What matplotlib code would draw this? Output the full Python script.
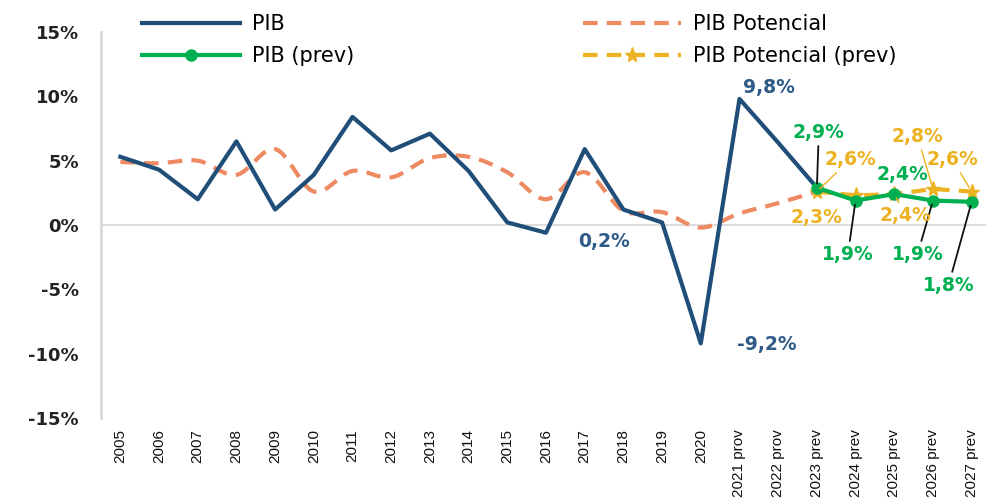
"""
PIB vs PIB Potencial, historico e previsoes
"""

import matplotlib
matplotlib.use('Agg')

import numpy as np
import matplotlib.pyplot as plt
from matplotlib.path import Path
from matplotlib.patches import PathPatch
from matplotlib.lines import Line2D

# ---- data ----
categories = ['2005', '2006', '2007', '2008', '2009', '2010', '2011', '2012',
              '2013', '2014', '2015', '2016', '2017', '2018', '2019', '2020',
              '2021 prov', '2022 prov', '2023 prev', '2024 prev', '2025 prev',
              '2026 prev', '2027 prev']

pib = [5.3, 4.3, 2.0, 6.5, 1.2, 3.9, 8.4, 5.8, 7.1, 4.2, 0.2, -0.6, 5.9,
       1.2, 0.2, -9.2, 9.8, 6.4, 2.9]
pib_potencial = [4.9, 4.8, 5.0, 3.9, 5.9, 2.6, 4.2, 3.7, 5.2, 5.3, 4.1, 2.0,
                 4.1, 1.1, 1.0, -0.2, 0.9, 1.7, 2.6]
pib_prev = [2.9, 1.9, 2.4, 1.9, 1.8]
pot_prev = [2.6, 2.3, 2.4, 2.8, 2.6]
prev_start = 18  # '2023 prev'

yticks = [-15, -10, -5, 0, 5, 10, 15]
ytick_labels = ['-15%', '-10%', '-5%', '0%', '5%', '10%', '15%']

C_PIB = '#1F4E79'
C_PIB_TXT = '#2E5A87'
C_POT = '#EE8A62'
C_GREEN = '#00B050'
C_YELLOW = '#EDB221'


def fmt(v):
    return ('%.1f%%' % v).replace('.', ',')


def smooth_path(x, y):
    """Excel-like smoothed line through the points (Bezier segments)."""
    pts = np.column_stack([x, y]).astype(float)
    n = len(pts)
    verts = [pts[0]]
    codes = [Path.MOVETO]
    for i in range(n - 1):
        p0 = pts[max(i - 1, 0)]
        p1 = pts[i]
        p2 = pts[i + 1]
        p3 = pts[min(i + 2, n - 1)]
        verts += [p1 + (p2 - p0) / 6, p2 - (p3 - p1) / 6, p2]
        codes += [Path.CURVE4] * 3
    return Path(verts, codes)


def main():
    plt.rcParams['font.family'] = 'DejaVu Sans'

    fig = plt.figure(figsize=(9.87, 5.0), dpi=100)
    ax = fig.add_axes([101 / 987, 82 / 500, 890 / 987, 386 / 500])

    x = np.arange(len(categories))
    x_hist = x[:len(pib)]
    x_prev = x[prev_start:prev_start + len(pib_prev)]

    # zero line
    ax.axhline(0, color='#D9D9D9', lw=1.3, zorder=1)

    # PIB potencial (smoothed, dashed)
    patch = PathPatch(smooth_path(x_hist, pib_potencial), fill=False,
                      edgecolor=C_POT, lw=3, linestyle=(0, (3.5, 2.2)),
                      capstyle='butt', zorder=2)
    ax.add_patch(patch)

    ax.plot(x_hist, pib, color=C_PIB, lw=3, zorder=3)

    ax.plot(x_prev, pot_prev, color=C_YELLOW, lw=3, ls=(0, (3.5, 2.2)),
            marker='*', ms=11, zorder=4)
    ax.plot(x_prev, pib_prev, color=C_GREEN, lw=3, marker='o', ms=8,
            zorder=5)

    # ---- data labels ----
    bold = dict(fontsize=13.5, fontweight='bold', ha='center', va='center')
    ax.text(16.75, 10.7, fmt(pib[16]), color=C_PIB_TXT, **bold)
    ax.text(16.7, -9.3, fmt(pib[15]), color=C_PIB_TXT, **bold)
    ax.text(12.5, -1.3, fmt(pib[14]), color=C_PIB_TXT, **bold)

    # (index, label x, label y, leader line)
    green_labels = [(18, 18.05, 7.2, True), (19, 18.8, -2.3, True),
                    (20, 20.2, 3.9, False), (21, 20.6, -2.3, True),
                    (22, 21.4, -4.7, True)]
    yellow_labels = [(18, 18.86, 5.1, True), (19, 17.98, 0.6, False),
                     (20, 20.3, 0.7, True), (21, 20.6, 6.9, True),
                     (22, 21.5, 5.1, True)]

    for idx, tx, ty, line in green_labels:
        v = pib_prev[idx - prev_start]
        arrow = dict(arrowstyle='-', color='#111111', lw=1.3,
                     shrinkA=1, shrinkB=3) if line else None
        ax.annotate(fmt(v), xy=(idx, v), xytext=(tx, ty), color=C_GREEN,
                    arrowprops=arrow, zorder=6, **bold)
    for idx, tx, ty, line in yellow_labels:
        v = pot_prev[idx - prev_start]
        arrow = dict(arrowstyle='-', color=C_YELLOW, lw=1.0,
                     shrinkA=1, shrinkB=3) if line else None
        ax.annotate(fmt(v), xy=(idx, v), xytext=(tx, ty), color=C_YELLOW,
                    arrowprops=arrow, zorder=6, **bold)

    # ---- axes ----
    ax.set_xlim(-0.5, 22.5)
    ax.set_ylim(-15, 15)
    ax.set_yticks(yticks)
    ax.set_yticklabels(ytick_labels, fontsize=13, fontweight='bold',
                       color='#222222')
    ax.set_xticks(x)
    ax.set_xticklabels(categories, rotation=90, fontsize=11,
                       family='Liberation Sans', color='#111111',
                       ha='center', va='top')
    ax.tick_params(axis='both', length=0)
    ax.tick_params(axis='y', pad=16)
    ax.tick_params(axis='x', pad=8)
    for side in ['top', 'right', 'bottom']:
        ax.spines[side].set_visible(False)
    ax.spines['left'].set_color('#D9D9D9')
    ax.spines['left'].set_linewidth(2)

    # ---- legends ----
    h_pib = Line2D([], [], color=C_PIB, lw=3)
    h_pib_prev = Line2D([], [], color=C_GREEN, lw=3, marker='o', ms=8)
    h_pot = Line2D([], [], color=C_POT, lw=3, ls=(0, (3.5, 2.2)))
    h_pot_prev = Line2D([], [], color=C_YELLOW, lw=3, ls=(0, (3.5, 2.2)),
                        marker='*', ms=11)
    leg_kw = dict(loc='upper left', frameon=False, fontsize=15,
                  handlelength=4.7, handletextpad=0.6, labelspacing=0.6,
                  borderpad=0, borderaxespad=0, numpoints=1)
    fig.legend([h_pib, h_pib_prev], ['PIB', 'PIB (prev)'],
               bbox_to_anchor=(142 / 987, 1 - 14 / 500), **leg_kw)
    fig.legend([h_pot, h_pot_prev], ['PIB Potencial', 'PIB Potencial (prev)'],
               bbox_to_anchor=(583 / 987, 1 - 14 / 500), **leg_kw)

    plt.savefig('out.png', dpi=100)


if __name__ == "__main__":
    main()
